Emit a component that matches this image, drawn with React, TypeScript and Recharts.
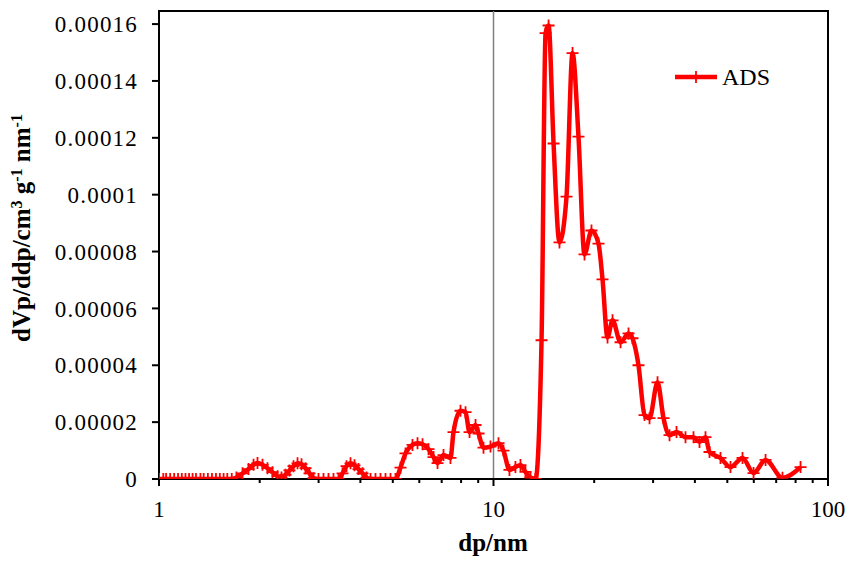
import React from 'react';
import { LineChart, Line, XAxis, YAxis, ReferenceLine, ReferenceArea } from 'recharts';

const FONT = '"Liberation Serif", "Times New Roman", serif';

const dpValues = [
  1.0, 1.03, 1.05, 1.08, 1.11, 1.14, 1.17, 1.2, 1.23, 1.26, 1.29, 1.33, 1.36, 1.4, 1.44, 1.48, 1.52, 1.56, 1.6, 1.65,
  1.704, 1.777, 1.852, 1.917, 1.97, 2.039, 2.11, 2.184, 2.262, 2.324, 2.388, 2.455, 2.524, 2.595, 2.667, 2.742, 2.818, 2.897,
  2.998, 3.103, 3.211, 3.324, 3.44,
  3.537, 3.636, 3.737, 3.841, 3.948, 4.058, 4.172, 4.289,
  4.438, 4.594, 4.755, 4.921, 5.093,
  5.272, 5.457, 5.726, 5.927, 6.135, 6.393, 6.617, 6.802, 7.089, 7.437, 7.593, 7.968, 8.249, 8.479, 8.836, 9.021, 9.335, 9.795,
  10.35, 10.71, 11.16, 11.63, 12.04, 12.46, 12.9, 13.36, 13.92, 14.31, 14.61, 15.12, 15.75, 16.53, 17.23, 17.95, 18.71, 19.63,
  20.6, 21.18, 21.92, 22.69, 23.98, 25.33, 26.03, 27.13, 28.28, 29.27, 30.93, 32.23, 33.59, 35.25, 37.5, 39.62, 41.29, 43.03,
  44.23, 47.71, 51.11, 55.52, 59.9, 65.06, 73.11, 82.78,
];

const dvValues = [
  0, 0, 0, 0, 0, 0, 0, 0, 0, 0, 0, 0, 0, 0, 0, 0, 0, 0, 0, 0,
  5e-7, 2.0e-6, 3.5e-6, 5.0e-6, 5.6e-6, 5.0e-6, 3.8e-6, 2.4e-6, 1.0e-6, 5e-7, 1.5e-6, 3.0e-6, 4.5e-6, 5.5e-6, 5.2e-6, 3.8e-6, 2.0e-6, 3e-7,
  0, 0, 0, 0, 0,
  2.0e-6, 4.5e-6, 5.5e-6, 4.8e-6, 3.5e-6, 2.0e-6, 5e-7, 0,
  0, 0, 0, 0, 0,
  4.0e-6, 9.0e-6, 1.2e-5, 1.26e-5, 1.22e-5, 1.05e-5, 7.7e-6, 5.6e-6, 8.4e-6, 7.4e-6, 1.65e-5, 2.4e-5, 2.35e-5, 1.65e-5, 1.9e-5, 1.6e-5, 1.1e-5, 1.14e-5,
  1.26e-5, 1.0e-5, 3.2e-6, 4.2e-6, 4.9e-6, 2.5e-6, 5e-7, 0, 4.88e-5, 1.568e-4, 1.595e-4, 1.18e-4, 8.32e-5, 9.93e-5, 1.498e-4, 1.204e-4, 7.9e-5, 8.74e-5,
  8.28e-5, 7.02e-5, 4.98e-5, 5.58e-5, 4.81e-5, 5.12e-5, 4.95e-5, 4.0e-5, 2.25e-5, 2.14e-5, 3.4e-5, 2.14e-5, 1.54e-5, 1.65e-5, 1.47e-5, 1.47e-5, 1.3e-5, 1.47e-5,
  9.5e-6, 7.4e-6, 4.2e-6, 7.4e-6, 2.1e-6, 6.7e-6, 4e-7, 4.2e-6,
];

const xTicks = [1, 2, 3, 4, 5, 6, 7, 8, 9, 10, 20, 30, 40, 50, 60, 70, 80, 90, 100];
const xMajorTicks = [1, 10, 100];
const yTicks = [0, 0.00002, 0.00004, 0.00006, 0.00008, 0.0001, 0.00012, 0.00014, 0.00016];
const yTickLabels = ['0', '0.00002', '0.00004', '0.00006', '0.00008', '0.0001', '0.00012', '0.00014', '0.00016'];
const yMax = 0.0001646;

const seriesName = 'ADS';
const xTitle = 'dp/nm';

const data = dpValues.map((dp, i) => ({ dp, dv: dvValues[i] }));

const PlusDot = (props: any) => {
  const { cx, cy } = props;
  if (cx == null || cy == null) return null;
  return (
    <path
      d={`M${cx - 6},${cy}H${cx + 6}M${cx},${cy - 6}V${cy + 6}`}
      stroke="#ff0000"
      strokeWidth={1.8}
      fill="none"
    />
  );
};

const XTick = (props: any) => {
  const { x, y, payload } = props;
  const v = payload.value;
  const major = xMajorTicks.includes(v);
  return (
    <g>
      <line x1={x} x2={x} y1={y} y2={y + (major ? 7 : 4)} stroke="#000" strokeWidth={2} />
      {major && (
        <text x={x} y={y + 38} textAnchor="middle" fontFamily={FONT} fontSize={23} fill="#000">
          {String(v)}
        </text>
      )}
    </g>
  );
};

const XLabel = () => (
  <text x={493} y={551} textAnchor="middle" fontFamily={FONT} fontSize={25} fontWeight="bold" fill="#000">
    {xTitle}
  </text>
);

const YLabel = () => (
  <text
    x={-228}
    y={30}
    transform="rotate(-90)"
    textAnchor="middle"
    fontFamily={FONT}
    fontSize={25}
    fontWeight="bold"
    fill="#000"
  >
    <tspan>dVp/ddp/cm</tspan>
    <tspan fontSize={16} dy={-8}>3</tspan>
    <tspan dy={8}> g</tspan>
    <tspan fontSize={16} dy={-8}>-1</tspan>
    <tspan dy={8}> nm</tspan>
    <tspan fontSize={16} dy={-8}>-1</tspan>
  </text>
);

export default function App() {
  return (
    <div style={{ position: 'absolute', left: 0, top: 0, width: 856, height: 565, background: '#fff' }}>
      <LineChart
        width={856}
        height={565}
        data={data}
        margin={{ top: 11, right: 28, bottom: 26, left: 40 }}
      >
        <XAxis
          dataKey="dp"
          type="number"
          scale="log"
          domain={[1, 100]}
          ticks={xTicks}
          interval={0}
          allowDataOverflow
          tickSize={0}
          tickMargin={0}
          tickLine={false}
          axisLine={{ stroke: '#000', strokeWidth: 2 }}
          tick={<XTick />}
          height={60}
          label={<XLabel />}
        />
        <YAxis
          type="number"
          domain={[0, yMax]}
          ticks={yTicks}
          interval={0}
          allowDataOverflow
          width={119}
          tickSize={7}
          tickMargin={14}
          tickLine={{ stroke: '#000', strokeWidth: 2 }}
          axisLine={{ stroke: '#000', strokeWidth: 2 }}
          tickFormatter={(v: number) => {
            const i = yTicks.indexOf(v);
            return i >= 0 ? yTickLabels[i] : '';
          }}
          tick={{ fontSize: 23, fill: '#000', fontFamily: FONT, letterSpacing: 1.2 }}
          label={<YLabel />}
        />
        <ReferenceLine x={10} stroke="#808080" strokeWidth={1.5} />
        <Line
          dataKey="dv"
          type="monotone"
          stroke="#ff0000"
          strokeWidth={4.5}
          dot={<PlusDot />}
          activeDot={false}
          isAnimationActive={false}
        />
        <ReferenceArea
          x1={1}
          x2={100}
          y1={0}
          y2={yMax}
          fill="none"
          fillOpacity={0}
          stroke="#000"
          strokeWidth={2}
          ifOverflow="visible"
        />
      </LineChart>
      <div
        style={{
          position: 'absolute',
          left: 673,
          top: 64,
          display: 'flex',
          alignItems: 'center',
          fontFamily: FONT,
          fontSize: 24,
          color: '#000',
          lineHeight: '26px',
        }}
      >
        <svg width={46} height={26} style={{ display: 'block' }}>
          <line x1={2} x2={44} y1={13} y2={13} stroke="#ff0000" strokeWidth={4.5} />
          <path d="M23,7V19M17,13H29" stroke="#ff0000" strokeWidth={1.8} />
        </svg>
        <span style={{ marginLeft: 3 }}>{seriesName}</span>
      </div>
    </div>
  );
}
